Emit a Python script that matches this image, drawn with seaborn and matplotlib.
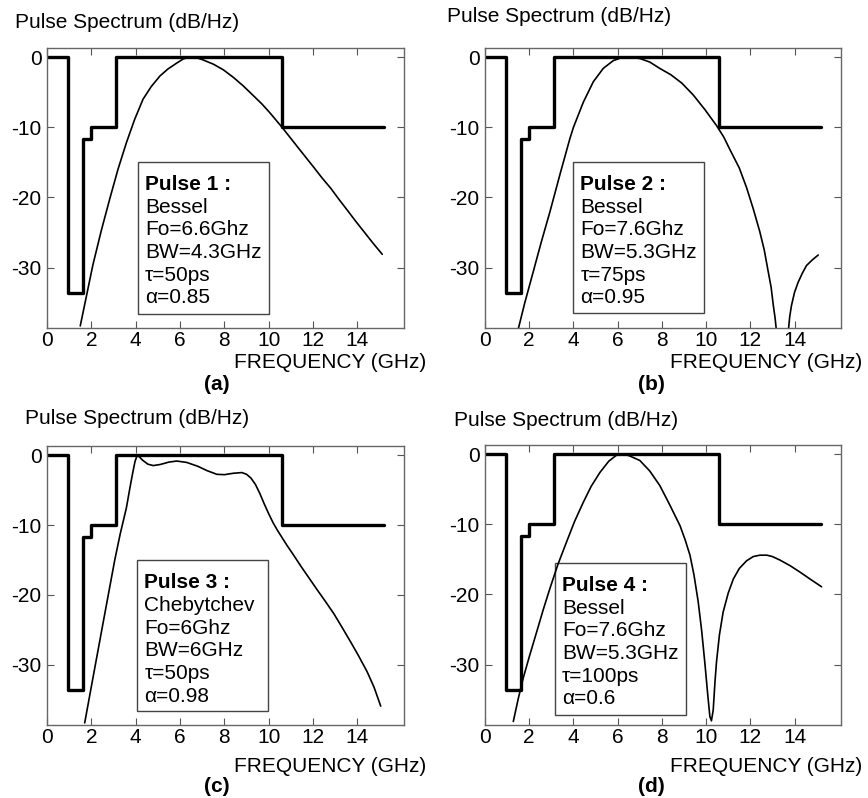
import matplotlib
matplotlib.use("Agg")
import matplotlib.pyplot as plt
import seaborn as sns
from matplotlib.patches import Rectangle

# FCC indoor UWB mask, normalised to 0 dB (step edges, GHz)
mask_freq = [0.0, 0.96, 1.61, 1.99, 3.1, 10.6, 15.2]
mask_level = [0.0, -33.6, -11.7, -10.0, 0.0, -10.0, -10.0]

# Pulse 1 : Bessel
p1_freq = [1.50, 2.07, 2.45, 2.83, 3.2, 3.58, 3.95, 4.33, 4.7, 5.09, 5.45, 5.85,
           6.15, 6.45, 6.75, 7.0, 7.5, 7.95, 8.41, 8.85, 9.31, 9.7, 10.07, 10.6,
           11.0, 11.35, 12.03, 12.4, 12.8, 13.15, 13.54, 13.9, 14.3, 14.7, 15.12]
p1_db = [-38.3, -29.6, -24.7, -20.2, -16.0, -12.2, -8.9, -6.0, -4.2, -2.7, -1.7, -0.85,
         -0.25, 0.0, -0.1, -0.35, -1.0, -1.8, -2.9, -4.1, -5.5, -6.7, -8.0, -10.0,
         -11.6, -13.0, -15.7, -17.2, -18.7, -20.2, -21.8, -23.3, -24.9, -26.5, -28.1]

# Pulse 2 : Bessel (main lobe, then side lobe after the null)
p2_freq = [1.50, 1.8, 2.18, 2.55, 2.94, 3.4, 3.84, 4.0, 4.45, 4.9, 5.35, 5.8, 6.2,
           6.6, 7.0, 7.45, 7.9, 8.4, 8.9, 9.42, 9.95, 10.47, 10.8, 11.08, 11.5, 11.83,
           12.13, 12.43, 12.63, 12.81, 12.94, 13.04, 13.12, 13.19]
p2_db = [-38.8, -35.0, -30.6, -26.3, -22.0, -16.6, -11.6, -10.0, -6.4, -3.5, -1.6, -0.5, -0.05,
         0.0, -0.2, -0.7, -1.6, -2.5, -3.7, -5.4, -7.5, -9.75, -11.4, -13.2, -15.8, -18.6,
         -21.6, -24.9, -27.5, -30.6, -32.8, -35.4, -37.2, -39.3]
p2_side_freq = [13.71, 13.78, 13.86, 14.0, 14.16, 14.35, 14.54, 14.8, 15.07]
p2_side_db = [-39.3, -37.0, -35.4, -33.5, -32.1, -30.8, -29.7, -28.9, -28.2]

# Pulse 3 : Chebytchev
p3_freq = [1.70, 2.0, 2.5, 3.05, 3.3, 3.58, 3.75, 3.88, 3.97, 4.06, 4.15, 4.3, 4.55,
           4.79, 5.1, 5.5, 5.85, 6.3, 6.8, 7.2, 7.66, 8.0, 8.4, 8.79, 9.0, 9.2,
           9.4, 9.6, 9.8, 10.0, 10.2, 10.4, 10.6, 10.82, 11.1, 11.43, 11.8, 12.17,
           12.55, 12.94, 13.3, 13.69, 14.05, 14.44, 14.75, 15.05]
p3_db = [-38.3, -33.1, -24.5, -15.1, -11.3, -7.55, -4.5, -2.3, -0.9, -0.1, -0.2, -0.7, -1.3,
         -1.5, -1.35, -1.0, -0.85, -1.05, -1.6, -2.2, -2.75, -2.8, -2.6, -2.5, -2.75, -3.3,
         -4.2, -5.5, -7.0, -8.4, -9.7, -10.8, -11.8, -12.9, -14.2, -15.8, -17.5, -19.2,
         -20.9, -22.7, -24.6, -26.7, -28.7, -31.0, -33.2, -35.9]

# Pulse 4 : Bessel (main lobe, null near 10.2 GHz, side lobe)
p4_freq = [1.28, 1.5, 1.73, 2.0, 2.34, 2.64, 2.94, 3.3, 3.69, 4.05, 4.44, 4.8, 5.2,
           5.6, 5.95, 6.1, 6.5, 7.0, 7.45, 7.91, 8.35, 8.82, 9.05, 9.27, 9.45, 9.64,
           9.8, 9.95, 10.08, 10.17, 10.24, 10.32, 10.4, 10.47, 10.6, 10.77, 11.0,
           11.23, 11.5, 11.83, 12.13, 12.43, 12.75, 13.0, 13.34, 13.8, 14.24, 14.7, 15.22]
p4_db = [-38.1, -34.9, -31.9, -28.9, -25.3, -22.1, -19.1, -15.7, -12.5, -9.6, -6.9, -4.6, -2.6,
         -1.0, -0.15, 0.0, -0.2, -0.9, -2.4, -4.5, -7.2, -10.2, -12.2, -14.4, -17.2, -21.0,
         -25.2, -30.0, -34.5, -37.4, -38.0, -36.5, -32.5, -29.6, -25.8, -22.5, -19.8,
         -17.8, -16.3, -15.2, -14.6, -14.4, -14.4, -14.6, -15.1, -15.9, -16.8, -17.8, -18.9]

box_texts = [
    ["Pulse 1 :", "Bessel", "Fo=6.6Ghz", "BW=4.3GHz", "τ=50ps", "α=0.85"],
    ["Pulse 2 :", "Bessel", "Fo=7.6Ghz", "BW=5.3GHz", "τ=75ps", "α=0.95"],
    ["Pulse 3 :", "Chebytchev", "Fo=6Ghz", "BW=6GHz", "τ=50ps", "α=0.98"],
    ["Pulse 4 :", "Bessel", "Fo=7.6Ghz", "BW=5.3GHz", "τ=100ps", "α=0.6"],
]
letters = ["(a)", "(b)", "(c)", "(d)"]

sns.set_style("ticks")
plt.rcParams["font.family"] = ["Liberation Sans", "DejaVu Sans"]
plt.rcParams["axes.unicode_minus"] = False
plt.rcParams["text.color"] = "black"

W, H = 868, 798
fig = plt.figure(figsize=(W / 100, H / 100), dpi=100)

# axes rectangles in pixels: left, top, right, bottom
ax_px = [(47, 48, 404, 328), (485, 48, 841, 328),
         (47, 446, 404, 725), (485, 445, 841, 725)]
# box in axes fraction: x0, y0, w, h
box_pos = [(0.255, 0.050, 0.367, 0.543), (0.248, 0.054, 0.367, 0.539),
           (0.2535, 0.049, 0.3665, 0.541), (0.196, 0.036, 0.369, 0.543)]
ylab_px = [(15, 23), (447, 17), (25, 419), (454, 420)]
xlab_px = [(426, 363), (862, 363), (426, 766), (862, 766)]
letter_px = [(217, 385), (651, 385), (217, 786), (651, 786)]

curves = [
    [(p1_freq, p1_db)],
    [(p2_freq, p2_db), (p2_side_freq, p2_side_db)],
    [(p3_freq, p3_db)],
    [(p4_freq, p4_db)],
]

for i in range(4):
    l, t, r, b = ax_px[i]
    ax = fig.add_axes([l / W, 1 - b / H, (r - l) / W, (b - t) / H])

    sns.lineplot(x=mask_freq, y=mask_level, drawstyle="steps-post", color="black",
                 lw=2.4, ax=ax, legend=False)
    for fx, fy in curves[i]:
        sns.lineplot(x=fx, y=fy, color="black", lw=1.2, ax=ax, legend=False)

    ax.set_xlim(0, 16.1)
    ax.set_ylim(-38.6, 1.3)
    ax.set_xticks([0, 2, 4, 6, 8, 10, 12, 14])
    ax.set_yticks([0, -10, -20, -30])
    ax.tick_params(direction="in", length=5, width=0.8, color="#555555",
                   labelcolor="black", labelsize=15, pad=4, top=True, right=True)
    ax.tick_params(axis="x", pad=2)
    for sp in ax.spines.values():
        sp.set_color("#666666")
        sp.set_linewidth(1.0)
    ax.set_xlabel("")
    ax.set_ylabel("")

    bx, by, bw, bh = box_pos[i]
    ax.add_patch(Rectangle((bx, by), bw, bh, transform=ax.transAxes,
                           fill=False, edgecolor="#444444", lw=1.0))
    ah = b - t
    aw = r - l
    for k, line in enumerate(box_texts[i]):
        ax.text(bx + 7 / aw, by + bh - 13 / ah - k * 22.7 / ah, line,
                transform=ax.transAxes, fontsize=15, va="top", ha="left",
                fontweight="bold" if k == 0 else "normal")

    fig.text(ylab_px[i][0] / W, 1 - ylab_px[i][1] / H, "Pulse Spectrum (dB/Hz)",
             fontsize=15, ha="left", va="center")
    fig.text(xlab_px[i][0] / W, 1 - xlab_px[i][1] / H, "FREQUENCY (GHz)",
             fontsize=15, ha="right", va="center")
    fig.text(letter_px[i][0] / W, 1 - letter_px[i][1] / H, letters[i],
             fontsize=15, fontweight="bold", ha="center", va="center")

fig.savefig("out.png", dpi=100)
